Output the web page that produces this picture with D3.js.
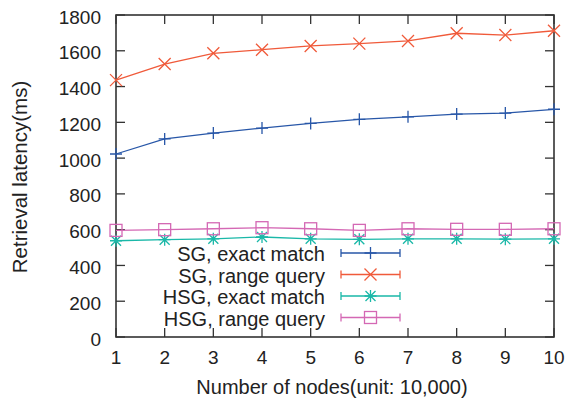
<!DOCTYPE html>
<html><head><meta charset="utf-8">
<script src="https://cdn.jsdelivr.net/npm/d3@7"></script>
<style>body{margin:0;background:#fff}svg{display:block}text{font-family:"Liberation Sans",Arial,sans-serif;fill:#222}</style>
</head><body>
<script>
const nodes = [1,2,3,4,5,6,7,8,9,10];
const sgExact = [1023,1107,1140,1168,1194,1217,1231,1246,1252,1273];
const sgRange = [1436,1526,1586,1606,1627,1640,1655,1698,1688,1712];
const hsgExact = [538,544,549,559,549,546,549,549,547,549];
const hsgRange = [596,600,605,611,605,596,605,602,602,605];
const yTicks = [0,200,400,600,800,1000,1200,1400,1600,1800];
const seriesNames = ["SG, exact match","SG, range query","HSG, exact match","HSG, range query"];
const seriesColors = ["#2857a8","#f05a3a","#1ab8a8","#d468b4"];
const seriesMarkers = ["plus","cross","star","square"];
const seriesData = [sgExact, sgRange, hsgExact, hsgRange];

const W=566,H=403;
const m={l:116,r:12,t:15,b:66};
const svg=d3.select("body").append("svg").attr("width",W).attr("height",H);
const x=d3.scaleLinear().domain([1,10]).range([m.l,W-m.r]);
const y=d3.scaleLinear().domain([0,1800]).range([H-m.b,m.t]);
const ink="#333";

const g=svg.append("g");
const tl=9;
nodes.forEach(v=>{
  g.append("line").attr("x1",x(v)).attr("x2",x(v)).attr("y1",y(0)).attr("y2",y(0)-tl).attr("stroke",ink).attr("stroke-width",1.3);
  g.append("line").attr("x1",x(v)).attr("x2",x(v)).attr("y1",y(1800)).attr("y2",y(1800)+tl).attr("stroke",ink).attr("stroke-width",1.3);
  g.append("text").attr("x",x(v)).attr("y",y(0)+27).attr("text-anchor","middle").attr("font-size",19).text(v);
});
yTicks.forEach(v=>{
  g.append("line").attr("x1",x(1)).attr("x2",x(1)+tl).attr("y1",y(v)).attr("y2",y(v)).attr("stroke",ink).attr("stroke-width",1.3);
  g.append("line").attr("x1",x(10)).attr("x2",x(10)-tl).attr("y1",y(v)).attr("y2",y(v)).attr("stroke",ink).attr("stroke-width",1.3);
  g.append("text").attr("x",x(1)-15).attr("y",y(v)+8.5).attr("text-anchor","end").attr("font-size",19).text(v);
});
svg.append("rect").attr("x",x(1)).attr("y",y(1800)).attr("width",x(10)-x(1)).attr("height",y(0)-y(1800))
  .attr("fill","none").attr("stroke",ink).attr("stroke-width",1.6);

function marker(sel,type,cx,cy,color){
  const s=6;
  if(type==="plus"){
    sel.append("path").attr("d",`M${cx-s},${cy}H${cx+s}M${cx},${cy-s}V${cy+s}`).attr("stroke",color).attr("stroke-width",1.3).attr("fill","none");
  } else if(type==="cross"){
    sel.append("path").attr("d",`M${cx-s},${cy-s}L${cx+s},${cy+s}M${cx-s},${cy+s}L${cx+s},${cy-s}`).attr("stroke",color).attr("stroke-width",1.3).attr("fill","none");
  } else if(type==="star"){
    sel.append("path").attr("d",`M${cx-s},${cy}H${cx+s}M${cx},${cy-s}V${cy+s}M${cx-s+1},${cy-s+1}L${cx+s-1},${cy+s-1}M${cx-s+1},${cy+s-1}L${cx+s-1},${cy-s+1}`).attr("stroke",color).attr("stroke-width",1.3).attr("fill","none");
  } else {
    sel.append("rect").attr("x",cx-s).attr("y",cy-s).attr("width",2*s).attr("height",2*s).attr("stroke",color).attr("stroke-width",1.3).attr("fill","none");
  }
}

const line=d3.line().x((d,i)=>x(nodes[i])).y(d=>y(d));
seriesData.forEach((arr,k)=>{
  const gg=svg.append("g");
  gg.append("path").datum(arr).attr("d",line).attr("fill","none").attr("stroke",seriesColors[k]).attr("stroke-width",1.3);
  arr.forEach((v,i)=>marker(gg,seriesMarkers[k],x(nodes[i]),y(v),seriesColors[k]));
});

const lx0=341,lx1=400,ly0=253,ldy=21.5;
seriesNames.forEach((n,k)=>{
  const yy=ly0+k*ldy, c=seriesColors[k];
  svg.append("text").attr("x",325).attr("y",yy+8).attr("text-anchor","end").attr("font-size",20).text(n);
  svg.append("path").attr("d",`M${lx0},${yy}H${lx1}M${lx0},${yy-4}V${yy+4}M${lx1},${yy-4}V${yy+4}`).attr("stroke",c).attr("stroke-width",1.3).attr("fill","none");
  marker(svg,seriesMarkers[k],(lx0+lx1)/2,yy,c);
});

svg.append("text").attr("x",332).attr("y",394).attr("text-anchor","middle").attr("font-size",20).text("Number of nodes(unit: 10,000)");
svg.append("text").attr("transform",`translate(27,177) rotate(-90)`).attr("text-anchor","middle").attr("font-size",20.5).text("Retrieval latency(ms)");
</script>
</body></html>
